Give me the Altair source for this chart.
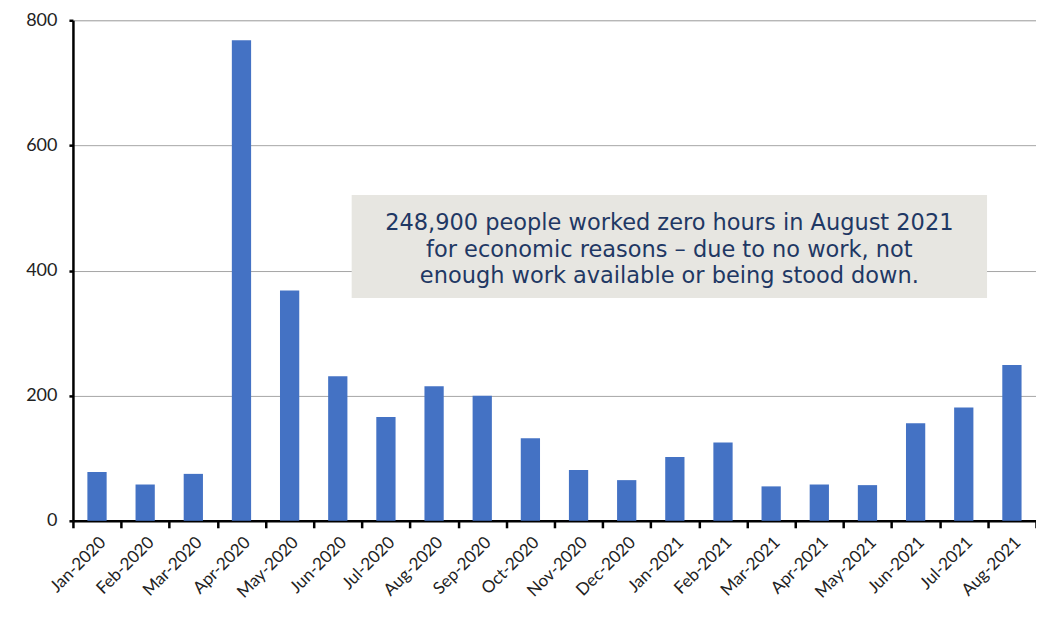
import altair as alt
import pandas as pd

months = ["Jan-2020", "Feb-2020", "Mar-2020", "Apr-2020", "May-2020", "Jun-2020",
          "Jul-2020", "Aug-2020", "Sep-2020", "Oct-2020", "Nov-2020", "Dec-2020",
          "Jan-2021", "Feb-2021", "Mar-2021", "Apr-2021", "May-2021", "Jun-2021",
          "Jul-2021", "Aug-2021"]
values = [78, 58, 75, 768, 368, 231, 166, 215, 200, 132, 81, 65,
          102, 125, 55, 58, 57, 156, 181, 249]
y_ticks = [0, 200, 400, 600, 800]
note_lines = ["248,900 people worked zero hours in August 2021",
              "for economic reasons – due to no work, not",
              "enough work available or being stood down."]

df = pd.DataFrame({"month": months, "value": values})

W, H = 964, 501

bars = alt.Chart(df).mark_bar(color="#4472C4", width=alt.RelativeBandSize(0.4)).encode(
    x=alt.X("month:N", sort=months, title=None,
            scale=alt.Scale(paddingInner=0, paddingOuter=0),
            axis=alt.Axis(labelAngle=-45, labelAlign="right", labelBaseline="top",
                          labelFont="Lato", labelFontSize=17, labelColor="#222222",
                          labelPadding=6, domainColor="black", domainWidth=2.5,
                          tickColor="black", tickWidth=2.5, tickSize=7,
                          tickBand="extent", grid=False)),
    y=alt.Y("value:Q", title=None,
            scale=alt.Scale(domain=[0, 800], nice=False),
            axis=alt.Axis(values=y_ticks, labelFont="Lato", labelFontSize=18,
                          labelColor="#222222", labelPadding=12,
                          domainColor="black", domainWidth=2.5,
                          tickColor="black", tickWidth=2.5, tickSize=4,
                          grid=True, gridColor="#a6a6a6", gridWidth=1)),
)

box = alt.Chart(pd.DataFrame({"a": [1]})).mark_rect(color="#E7E6E1").encode(
    x=alt.value(279), x2=alt.value(915), y=alt.value(175), y2=alt.value(278)
)

note = alt.Chart(pd.DataFrame({"t": [note_lines]})).mark_text(
    font="DejaVu Sans", fontSize=22.5, color="#1F3864", align="center",
    baseline="middle", lineHeight=26.5
).encode(
    x=alt.value(597), y=alt.value(203), text="t"
)

chart = alt.layer(bars, box, note).properties(
    width=W, height=H,
    padding={"left": 65, "top": 12, "right": 0, "bottom": 90},
    autosize=alt.AutoSizeParams(type="none"),
).configure_view(stroke=None).configure(background="white")

chart.save("out.html", embed_options={"renderer": "svg", "actions": False})
